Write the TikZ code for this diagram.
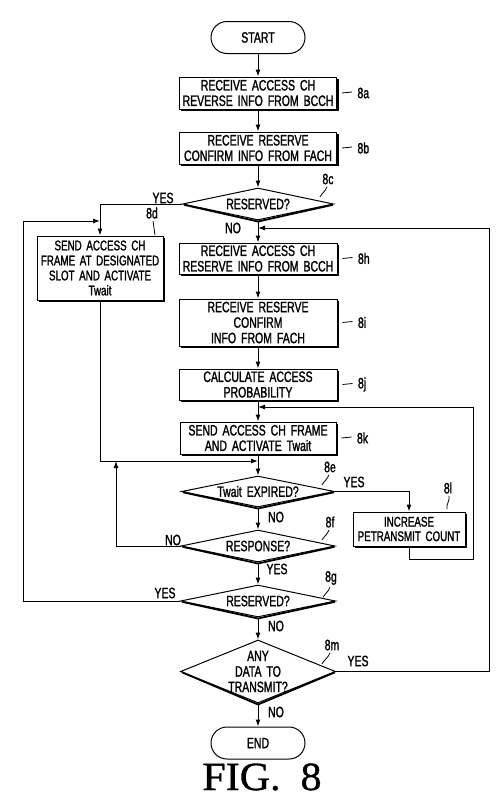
\documentclass[tikz,border=0pt]{standalone}
\usepackage{fontspec}
\setmainfont{Liberation Sans}[FakeStretch=0.7,WordSpace=1.7,FakeBold=1.4]
\newfontfamily\figfont{Liberation Serif}[FakeStretch=1.05,FakeBold=0.8]
\usetikzlibrary{shapes.geometric,arrows.meta}
\begin{document}
\begin{tikzpicture}[x=1pt,y=-1pt,line width=1pt,
  >={Latex[length=7pt,width=5pt]},
  font=\fontsize{15}{15.5}\selectfont,
  proc/.style={draw,rectangle,align=center,inner sep=2pt},
  term/.style={draw,rectangle,rounded corners=16pt,minimum width=94pt,minimum height=32pt},
  dec/.style={draw,diamond,aspect=4.8,inner sep=0pt,inner ysep=-3pt,align=center,minimum width=154pt,minimum height=32pt},
  lab/.style={inner sep=1pt},
  arr/.style={->}]
\useasboundingbox (0,0) rectangle (500,803);
% nodes
\node[term] (start) at (258,37.5) {START};
\node[proc,minimum width=157pt,minimum height=32pt] (a) at (258,93) {RECEIVE ACCESS CH\\REVERSE INFO FROM BCCH};
\node[proc,minimum width=157pt,minimum height=32pt] (b) at (258,148) {RECEIVE RESERVE\\CONFIRM INFO FROM FACH};
\node[dec,minimum width=151pt] (c) at (258,204) {RESERVED?};
\node[proc,minimum width=126pt,minimum height=64pt,font=\fontsize{14}{15}\selectfont] (d) at (100,268) {SEND ACCESS CH\\FRAME AT DESIGNATED\\SLOT AND ACTIVATE\\Twait};
\node[proc,minimum width=158pt,minimum height=31pt] (h) at (258,258.5) {RECEIVE ACCESS CH\\RESERVE INFO FROM BCCH};
\node[proc,minimum width=158pt,minimum height=47pt] (i) at (258,322.5) {RECEIVE RESERVE\\CONFIRM\\INFO FROM FACH};
\node[proc,minimum width=158pt,minimum height=31pt] (j) at (258,384.5) {CALCULATE ACCESS\\PROBABILITY};
\node[proc,minimum width=156pt,minimum height=32pt] (k) at (258,438) {SEND ACCESS CH FRAME\\AND ACTIVATE Twait};
\node[dec,minimum width=153pt,minimum height=31pt] (e) at (258,491.5) {Twait EXPIRED?};
\node[proc,minimum width=112pt,minimum height=34pt,font=\fontsize{14}{14.5}\selectfont] (l) at (409,529) {INCREASE\\PETRANSMIT COUNT};
\node[dec] (f) at (258,546) {RESPONSE?};
\node[dec,minimum width=155pt] (g) at (258,601) {RESERVED?};
\node[dec,aspect=2.5,inner ysep=-10pt,minimum width=155pt,minimum height=63pt] (m) at (258,671.5) {ANY\\DATA TO\\TRANSMIT?};
\node[term] (end) at (258,743) {END};
\node[font=\figfont\fontsize{40}{40}\selectfont,inner sep=0pt] (fig) at (262,777) {FIG.\hspace{20pt}8};
% shadows
\foreach \n in {a,b,d,h,i,j,k,l}
  \draw[line width=1.8pt] ([xshift=1pt,yshift=-2pt]\n.north east) |- ([xshift=2pt,yshift=-1pt]\n.south west);
\foreach \n in {c,e,f,g,m}
  \draw[line width=1.8pt] ([xshift=2pt,yshift=-0.8pt]\n.west) -- ([yshift=-1pt]\n.south) -- ([xshift=-1pt,yshift=-0.8pt]\n.east);
% junction coordinates
\coordinate (xl) at (23,221);
\coordinate (jd) at (100,221);
\coordinate (xr) at (489,228);
\coordinate (jm) at (258,228);
\coordinate (q1) at (473,559);
\coordinate (q2) at (473,407);
\coordinate (jk) at (258,407);
\coordinate (je) at (258,461);
\coordinate (jf) at (116,461);
% connectors
\draw[arr] (start) -- (a);
\draw[arr] (a) -- (b);
\draw[arr] (b) -- (c);
\draw[arr] (c.south) -- (h.north);
\draw[arr] (c.west) -| (d.north);
\draw[arr] (g.west) -| (xl) -- (jd);
\draw[arr] (m.east) -| (xr) -- (jm);
\draw[arr] (h) -- (i);
\draw[arr] (i) -- (j);
\draw[arr] (j) -- (k);
\draw[arr] (l.south) |- (q1) -- (q2) -- (jk);
\draw[arr] (k.south) -- (e.north);
\draw[arr] (d.south) |- (je);
\draw[arr] (e.east) -| (l.north);
\draw[arr] (e.south) -- (f.north);
\draw[arr] (f.west) -| (jf);
\draw[arr] (f.south) -- (g.north);
\draw[arr] (g.south) -- (m.north);
\draw[arr] (m.south) -- (end.north);
% branch labels
\node[lab] (yc) at (163,198) {YES};
\node[lab] (nc) at (233,228) {NO};
\node[lab] (ye) at (354,482) {YES};
\node[lab] (ne) at (276,517) {NO};
\node[lab] (nf) at (173,540) {NO};
\node[lab] (yf) at (277,569) {YES};
\node[lab] (yg) at (165,593) {YES};
\node[lab] (ng) at (276,626) {NO};
\node[lab] (ym) at (358,661) {YES};
\node[lab] (nm) at (276,712) {NO};
% reference numerals for boxes
\foreach \n/\t in {a/8a,b/8b,h/8h,i/8i,j/8j,k/8k}{
  \draw[line width=0.8pt] ([xshift=5pt]\n.east) -- ([xshift=15pt,yshift=1pt]\n.east);
  \node[lab,anchor=west] (r\n) at ([xshift=19pt]\n.east) {\t};
}
% reference numerals for decisions with leaders
\node[lab] (rc) at (328,179) {8c};
\draw[line width=0.8pt] (rc.south) ++(-1,1) to[out=-110,in=60] ++(-7,10);
\node[lab] (rd) at (152,213) {8d};
\draw[line width=0.8pt] (rd.south) ++(1,1) to[out=-80,in=100] ++(2,14);
\node[lab] (re) at (330,467) {8e};
\draw[line width=0.8pt] (re.south) ++(-1,1) to[out=-110,in=60] ++(-7,10);
\node[lab] (rf) at (330,522) {8f};
\draw[line width=0.8pt] (rf.south) ++(-1,1) to[out=-110,in=60] ++(-7,10);
\node[lab] (rg) at (331,578) {8g};
\draw[line width=0.8pt] (rg.south) ++(-1,1) to[out=-110,in=60] ++(-7,10);
\node[lab] (rl) at (448,488) {8l};
\draw[line width=0.8pt] (rl.south) ++(1,1) to[out=-80,in=100] ++(-2,13);
\node[lab] (rm) at (332,645) {8m};
\draw[line width=0.8pt] (rm.south) ++(-2,1) to[out=-110,in=60] ++(-8,11);
\end{tikzpicture}
\end{document}
